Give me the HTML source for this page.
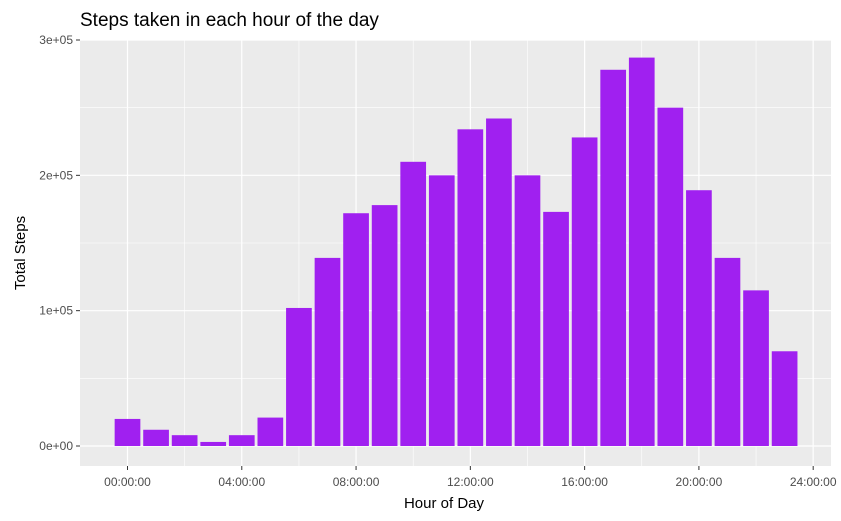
<!DOCTYPE html>
<html><head><meta charset="utf-8"><style>
body{margin:0;background:#fff;font-family:"Liberation Sans",sans-serif;}
svg{display:block}
</style></head><body>
<svg id="chart" width="841" height="521">
<text x="80" y="26" font-size="19" fill="#000">Steps taken in each hour of the day</text>
<rect x="80" y="40" width="751" height="426" fill="#ebebeb"/>
<g id="grid"></g><g id="bars"></g><g id="axes"></g>
<text x="444" y="508" font-size="15" text-anchor="middle" fill="#000">Hour of Day</text>
<text transform="translate(25,253) rotate(-90)" font-size="15" text-anchor="middle" fill="#000">Total Steps</text>
</svg>
<script>
const hours = [0,1,2,3,4,5,6,7,8,9,10,11,12,13,14,15,16,17,18,19,20,21,22,23];
const steps = [20000,12000,8000,3000,8000,21000,102000,139000,172000,178000,210000,200000,234000,242000,200000,173000,228000,278000,287000,250000,189000,139000,115000,70000];
const yTicks = [0,100000,200000,300000];
const yLabels = ["0e+00","1e+05","2e+05","3e+05"];
const xTicks = [0,4,8,12,16,20,24];
const xLabels = ["00:00:00","04:00:00","08:00:00","12:00:00","16:00:00","20:00:00","24:00:00"];
const NS="http://www.w3.org/2000/svg";
const X = h => 127.5 + h*28.57;
const Y = v => 446 - v*(406/300000);
function mk(tag,attrs,parent){const e=document.createElementNS(NS,tag);for(const k in attrs)e.setAttribute(k,attrs[k]);document.getElementById(parent).appendChild(e);return e;}
// minor grid
for(let i=0;i<xTicks.length-1;i++){const l=mk('line',{x1:X(xTicks[i]+2),x2:X(xTicks[i]+2),y1:40,y2:466,stroke:'#fff','stroke-width':0.6},'grid');

}
for(let i=0;i<yTicks.length-1;i++){const v=(yTicks[i]+yTicks[i+1])/2;const l=mk('line',{x1:80,x2:831,y1:Y(v),y2:Y(v),stroke:'#fff','stroke-width':0.6},'grid');

}
xTicks.forEach((t,i)=>{const l=mk('line',{x1:X(t),x2:X(t),y1:40,y2:466,stroke:'#fff','stroke-width':1.2},'grid');


const tk=mk('line',{x1:X(t),x2:X(t),y1:466,y2:470,stroke:'#333','stroke-width':1},'axes');


const tx=mk('text',{x:X(t),y:486,'font-size':12,'text-anchor':'middle',fill:'#4d4d4d'},'axes');tx.textContent=xLabels[i];

});
yTicks.forEach((t,i)=>{const l=mk('line',{x1:80,x2:831,y1:Y(t),y2:Y(t),stroke:'#fff','stroke-width':1.2},'grid');


const tk=mk('line',{x1:76,x2:80,y1:Y(t),y2:Y(t),stroke:'#333','stroke-width':1},'axes');


const tx=mk('text',{x:73,y:Y(t)+4,'font-size':12,'text-anchor':'end',fill:'#4d4d4d'},'axes');tx.textContent=yLabels[i];

});
hours.forEach((h,i)=>{const w=25.7;const r=mk('rect',{x:X(h)-w/2,y:Y(steps[i]),width:w,height:Y(0)-Y(steps[i]),fill:'#a020f0'},'bars');

});
</script>
</body></html>
